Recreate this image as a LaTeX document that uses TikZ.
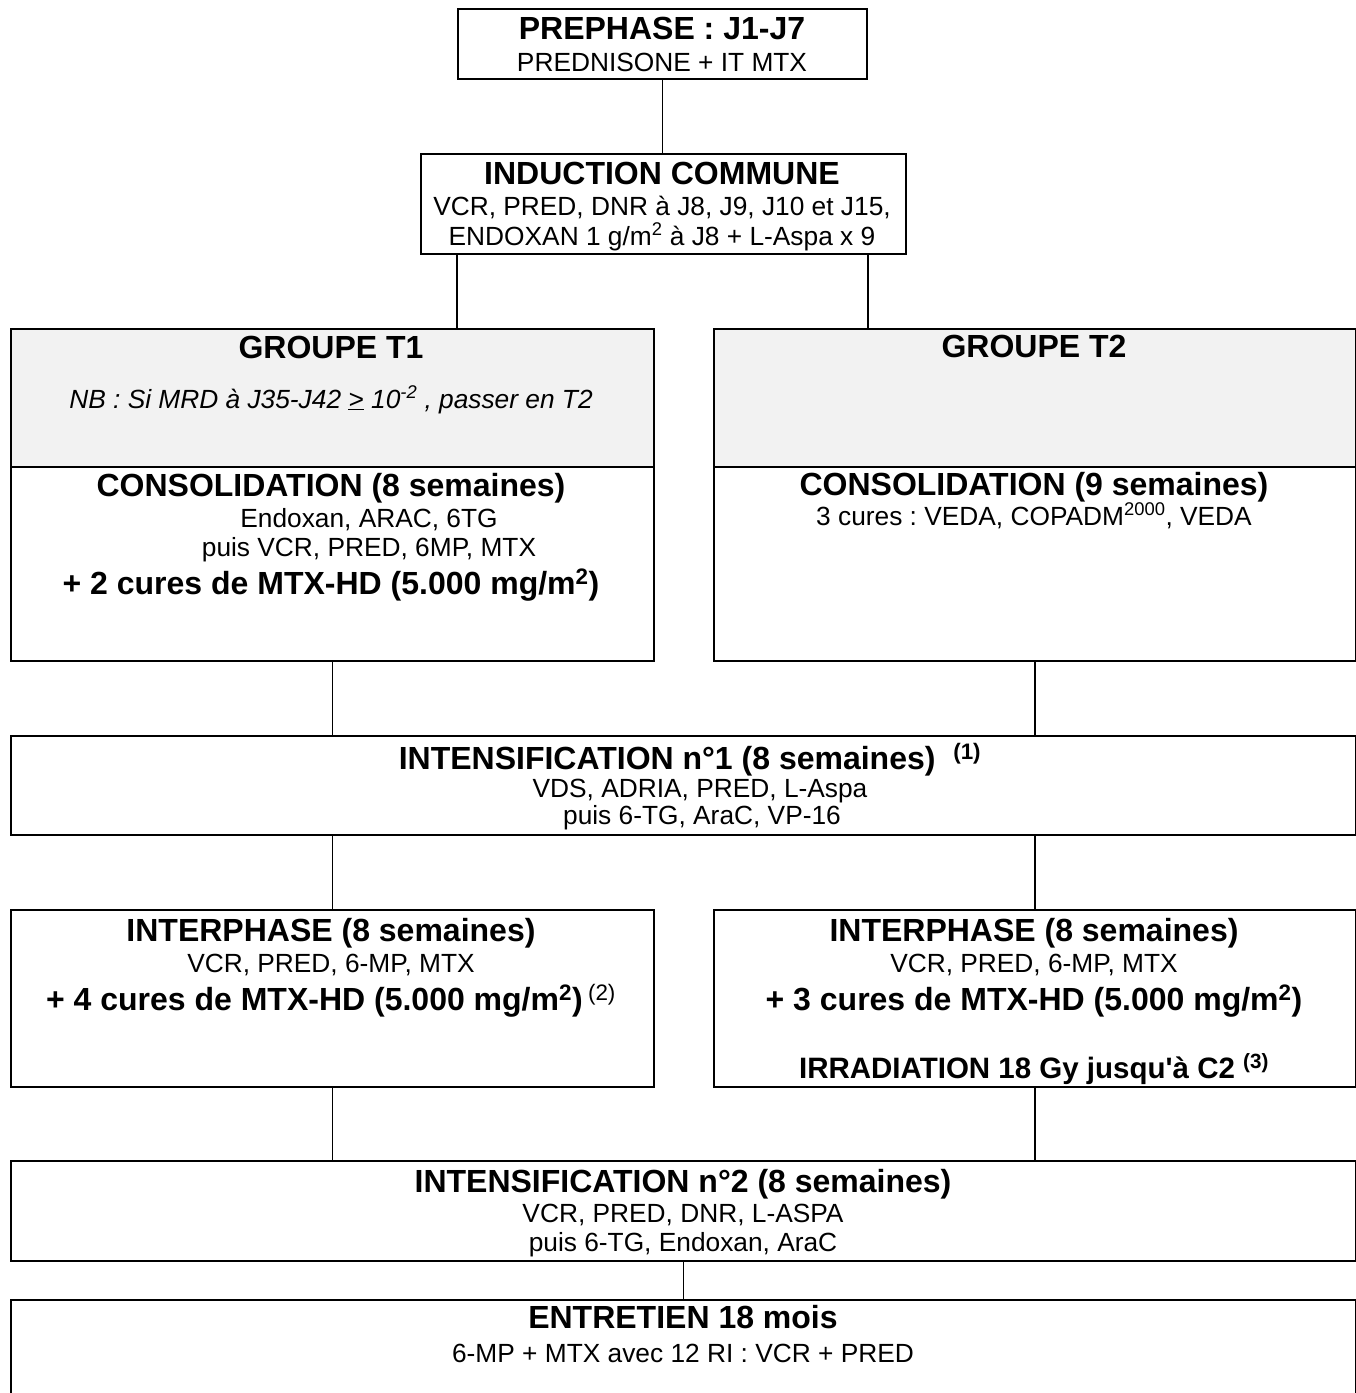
\documentclass[tikz,border=0pt]{standalone}
\usepackage{fontspec}
\setmainfont{Liberation Sans}
\newfontfamily\plainfont{Liberation Sans}
\frenchspacing
\usetikzlibrary{calc}
\definecolor{grisbox}{HTML}{F2F2F2}
\begin{document}
\begin{tikzpicture}[x=1pt,y=-1pt,
  box/.style={draw, line width=1.8pt, inner sep=0pt, anchor=north west, rectangle},
  graybox/.style={box, fill=grisbox},
  link/.style={line width=1.5pt},
  ttl/.style={anchor=base, inner sep=0pt, font=\fontsize{32}{36}\selectfont\bfseries},
  txt/.style={anchor=base, inner sep=0pt, font=\fontsize{26.3}{30}\selectfont},
  btxt/.style={anchor=base, inner sep=0pt, font=\fontsize{29.5}{34}\selectfont\bfseries},
  itxt/.style={anchor=base, inner sep=0pt, font=\fontsize{26.3}{30}\selectfont\itshape}]
\useasboundingbox (0,0) rectangle (1356,1393);
\clip (0,0) rectangle (1356,1393);

% boxes
\node[box, minimum width=409pt, minimum height=70pt] (pre) at (457,8) {};
\node[box, minimum width=485pt, minimum height=100pt] (ind) at (420,153) {};
\node[graybox, minimum width=643pt, minimum height=138pt] (t1g) at (10,328) {};
\node[box, minimum width=643pt, minimum height=332pt] (t1) at (10,328) {};
\node[graybox, minimum width=642pt, minimum height=138pt] (t2g) at (713,328) {};
\node[box, minimum width=642pt, minimum height=332pt] (t2) at (713,328) {};
\node[box, minimum width=1345pt, minimum height=99pt] (i1) at (10,735) {};
\node[box, minimum width=643pt, minimum height=177pt] (ip1) at (10,909) {};
\node[box, minimum width=642pt, minimum height=177pt] (ip2) at (713,909) {};
\node[box, minimum width=1345pt, minimum height=100pt] (i2) at (10,1160) {};
\node[box, minimum width=1345pt, minimum height=150pt] (ent) at (10,1299) {};

% texts
\node[ttl] (preA) at (662,39) {PREPHASE : J1-J7};
\node[txt] (preB) at (662,71) {PREDNISONE + IT MTX};

\node[ttl] (indA) at (662,184) {INDUCTION COMMUNE};
\node[txt] (indB) at (662,215) {VCR, PRED, DNR à J8, J9, J10 et J15,};
\node[txt] (indC) at (662,245) {ENDOXAN 1 g/m\textsuperscript{2} à J8 + L-Aspa x 9};

\node[ttl] (t1A) at (331,358) {GROUPE T1};
\node[itxt] (t1B) at (331,408) {NB : Si MRD à J35-J42 \underline{>} 10\textsuperscript{-2} , passer en T2};
\node[ttl] (t1C) at (331,496) {CONSOLIDATION (8 semaines)};
\node[txt] (t1D) at (369,527) {Endoxan, ARAC, 6TG};
\node[txt] (t1E) at (369,556) {puis VCR, PRED, 6MP, MTX};
\node[ttl] (t1F) at (331,594) {+ 2 cures de MTX-HD (5.000 mg/m\textsuperscript{2})};

\node[ttl] (t2A) at (1034,357) {GROUPE T2};
\node[ttl] (t2C) at (1034,495) {CONSOLIDATION (9 semaines)};
\node[txt] (t2D) at (1034,525) {3 cures : VEDA, COPADM\textsuperscript{2000}, VEDA};

\node[ttl] (i1A) at (690,769) {INTENSIFICATION n°1 (8 semaines) \ \textsuperscript{(1)}};
\node[txt] (i1B) at (700,797) {VDS, ADRIA, PRED, L-Aspa};
\node[txt] (i1C) at (702,824) {puis 6-TG, AraC, VP-16};

\node[ttl] (ip1A) at (331,941) {INTERPHASE (8 semaines)};
\node[txt] (ip1B) at (331,972) {VCR, PRED, 6-MP, MTX};
\node[ttl] (ip1C) at (331,1010) {+ 4 cures de MTX-HD (5.000 mg/m\textsuperscript{2})\,{\mdseries\textsuperscript{(2)}}};

\node[ttl] (ip2A) at (1034,941) {INTERPHASE (8 semaines)};
\node[txt] (ip2B) at (1034,972) {VCR, PRED, 6-MP, MTX};
\node[ttl] (ip2C) at (1034,1010) {+ 3 cures de MTX-HD (5.000 mg/m\textsuperscript{2})};
\node[btxt] (ip2D) at (1034,1078) {IRRADIATION 18 Gy jusqu{\plainfont'}à C2 \textsuperscript{(3)}};

\node[ttl] (i2A) at (683,1192) {INTENSIFICATION n°2 (8 semaines)};
\node[txt] (i2B) at (683,1222) {VCR, PRED, DNR, L-ASPA};
\node[txt] (i2C) at (683,1251) {puis 6-TG, Endoxan, AraC};

\node[ttl] (entA) at (683,1328) {ENTRETIEN 18 mois};
\node[txt] (entB) at (683,1362) {6-MP + MTX avec 12 RI : VCR + PRED};

% connectors
\draw[link] (pre.south) -- (pre.south |- ind.north);
\coordinate (c1) at ($(ind.south west)+(37,0)$);
\coordinate (c2) at ($(ind.south east)+(-39,0)$);
\draw[link] (c1) -- (c1 |- t1.north);
\draw[link] (c2) -- (c2 |- t2.north);
\draw[link] (t1.south) -- (t1.south |- i1.north);
\draw[link] (t2.south) -- (t2.south |- i1.north);
\draw[link] (ip1.north |- i1.south) -- (ip1.north);
\draw[link] (ip2.north |- i1.south) -- (ip2.north);
\draw[link] (ip1.south) -- (ip1.south |- i2.north);
\draw[link] (ip2.south) -- (ip2.south |- i2.north);
\draw[link] (i2.south) -- (i2.south |- ent.north);
\end{tikzpicture}
\end{document}
